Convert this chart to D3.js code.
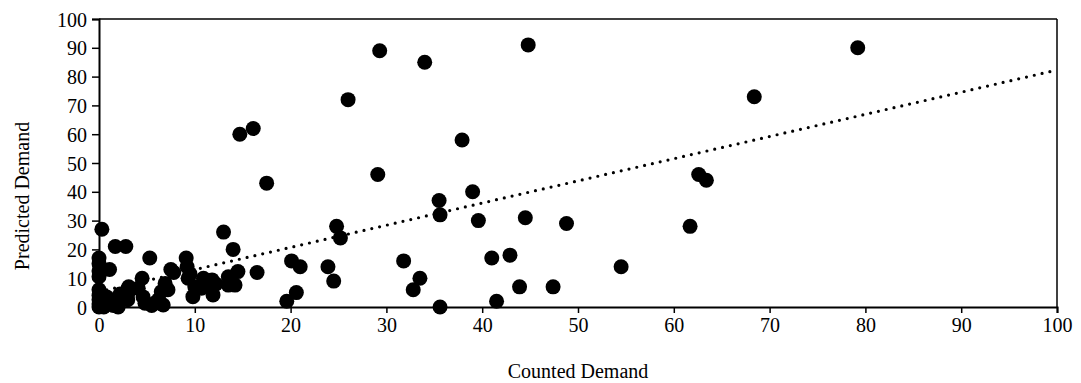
<!DOCTYPE html>
<html>
<head>
<meta charset="utf-8">
<script src="https://cdn.jsdelivr.net/npm/d3@7"></script>
<style>
  body { margin: 0; background: #fff; }
  svg text { font-family: "Liberation Serif", "Times New Roman", serif; fill: #000; }
</style>
</head>
<body>
<svg id="chart" width="1081" height="383"></svg>
<script>
// counted vs predicted demand
const counted = [
  0, 0, 0, 0, 0, 0, 0, 0, 0, 0.3, 0.5, 0.8, 1, 1.2, 1.1, 1.5, 1.7, 2, 2.2, 2.8, 3, 3.1, 3,
  4.1, 4.5, 4.6, 4.8, 5.3, 5.5, 5.8, 6.2, 6.5, 6.7, 6.9, 7.2, 7.5, 7.8,
  9.1, 9.2, 9.3, 9.5, 9.8, 10, 10.7, 10.9, 11, 11.8, 11.9, 12.2,
  13, 13.5, 13.5, 14, 14.2, 14.5, 14.7, 16.1, 16.5, 17.5,
  19.6, 20.1, 20.6, 21, 23.9, 24.5, 24.8, 25.2, 26,
  29.1, 29.3, 31.8, 32.8, 33.5, 34, 35.5, 35.6, 35.6,
  37.9, 39, 39.6, 41, 41.5, 42.9, 43.9, 44.5, 44.8, 47.4, 48.8,
  54.5, 61.7, 62.6, 63.4, 68.4, 79.2
];
const predicted = [
  0, 1, 2.5, 4, 6, 10.5, 12.5, 15, 17, 27, 0, 3.5, 1, 2.5, 13, 0.5, 21, 0, 4.5, 21, 2.5, 7, 4.5,
  6.5, 10, 3.5, 1.3, 17, 0.5, 1.3, 2.5, 5.3, 0.7, 8.2, 6, 13, 12,
  17, 14, 10, 11.5, 3.6, 7, 6.5, 10, 7.5, 9.4, 4.2, 8,
  26, 10.5, 7.6, 20, 7.6, 12.3, 60, 62, 12, 43,
  2, 16, 5, 14, 14, 9, 28, 24, 72,
  46, 89, 16, 6, 10, 85, 37, 32, 0,
  58, 40, 30, 17, 2, 18, 7, 31, 91, 7, 29,
  14, 28, 46, 44, 73, 90
];

// linear trendline as drawn
const trendSlope = 0.77;
const trendIntercept = 5.3;

const xTicks = [0, 10, 20, 30, 40, 50, 60, 70, 80, 90, 100];
const yTicks = [0, 10, 20, 30, 40, 50, 60, 70, 80, 90, 100];

const margin = { top: 19, right: 24, bottom: 76, left: 99 };
const width = 1081, height = 383;
const innerW = width - margin.left - margin.right;
const innerH = height - margin.top - margin.bottom;
const fontSize = 20;

const svg = d3.select('#chart');
const g = svg.append('g')
  .attr('transform', `translate(${margin.left},${margin.top})`);

const x = d3.scaleLinear().domain([0, 100]).range([0, innerW]);
const y = d3.scaleLinear().domain([0, 100]).range([innerH, 0]);

// top and right frame lines
g.append('line')
  .attr('x1', 0).attr('x2', innerW).attr('y1', 0).attr('y2', 0)
  .attr('stroke', '#000').attr('stroke-width', 1.5);
g.append('line')
  .attr('x1', innerW).attr('x2', innerW).attr('y1', 0).attr('y2', innerH)
  .attr('stroke', '#000').attr('stroke-width', 1.5);

const points = counted.map((c, i) => ({ x: c, y: predicted[i] }));

g.selectAll('circle')
  .data(points)
  .enter()
  .append('circle')
  .attr('cx', d => x(d.x))
  .attr('cy', d => y(d.y))
  .attr('r', 7.5)
  .attr('fill', '#000');

// dotted trendline
const trend = [0, 100].map(v => ({ x: v, y: trendSlope * v + trendIntercept }));
g.append('path')
  .datum(trend)
  .attr('d', d3.line().x(d => x(d.x)).y(d => y(d.y)))
  .attr('fill', 'none')
  .attr('stroke', '#000')
  .attr('stroke-width', 3.2)
  .attr('stroke-linecap', 'round')
  .attr('stroke-dasharray', '0 8');

const xAxis = g.append('g')
  .attr('transform', `translate(0,${innerH})`)
  .call(d3.axisBottom(x).tickValues(xTicks).tickSize(6).tickPadding(5).tickFormat(d3.format('d')));

const yAxis = g.append('g')
  .call(d3.axisLeft(y).tickValues(yTicks).tickSize(7).tickPadding(5).tickFormat(d3.format('d')));

[xAxis, yAxis].forEach(a => {
  a.select('.domain').attr('stroke-width', 2);
  a.selectAll('.tick line').attr('stroke-width', 1.5);
  a.selectAll('text').attr('font-size', fontSize).attr('font-family', '"Liberation Serif", serif');
});
yAxis.selectAll('text').attr('dy', '0.35em');

svg.append('text')
  .attr('x', margin.left + innerW / 2)
  .attr('y', 378)
  .attr('text-anchor', 'middle')
  .attr('font-size', fontSize)
  .text('Counted Demand');

svg.append('text')
  .attr('transform', 'translate(29,196) rotate(-90)')
  .attr('text-anchor', 'middle')
  .attr('font-size', fontSize)
  .text('Predicted Demand');
</script>
</body>
</html>
